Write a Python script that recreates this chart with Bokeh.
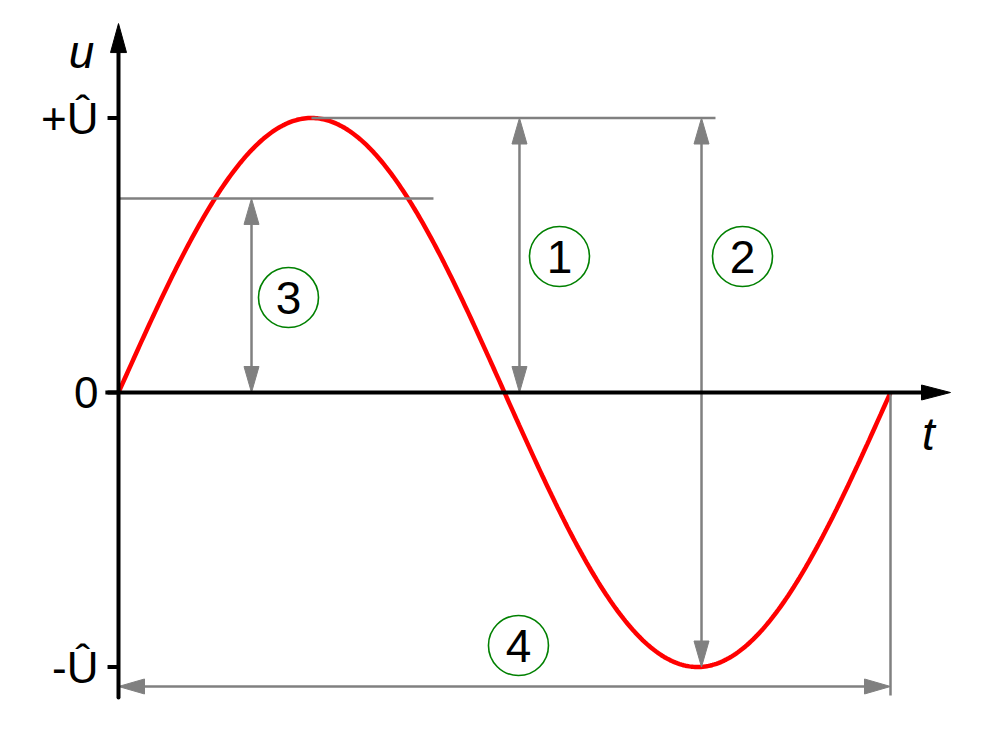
import numpy as np

from bokeh.plotting import figure
from bokeh.core.properties import value
from bokeh.embed import file_html
from bokeh.resources import INLINE

# values (t in periods, u in units of the peak value)
period = 1.0
amplitude = 1.0
rms_level = 0.707
tick_values = [amplitude, 0.0, -amplitude]
tick_labels = ["+\u00db", "0", "-\u00db"]
marker_labels = ["1", "2", "3", "4"]

# sine curve of one period
t = np.linspace(0, period, 400)
u = amplitude * np.sin(2 * np.pi * t / period)

W, H = 984, 713
X0, X1 = -118 / 772, (W - 118) / 772
Y0, Y1 = (392 - H) / 274.5, 392 / 274.5
KX = W / (X1 - X0)   # pixels per unit of t
KY = H / (Y1 - Y0)   # pixels per unit of u

GREY = "#808080"
FONT = value("Liberation Sans")

p = figure(width=W, height=H, x_range=(X0, X1), y_range=(Y0, Y1),
           output_backend="svg", toolbar_location=None,
           x_axis_location=None, y_axis_location=None, min_border=0)
p.grid.visible = False
p.outline_line_color = None


def arrow_head(x, y, direction, length, width):
    # triangle with its tip at (x, y), pointing "up", "down", "left", "right"
    lx, ly = length / KX, length / KY
    wx, wy = width / 2 / KX, width / 2 / KY
    if direction == "up":
        return [x, x - wx, x + wx], [y, y - ly, y - ly]
    if direction == "down":
        return [x, x - wx, x + wx], [y, y + ly, y + ly]
    if direction == "right":
        return [x, x - lx, x - lx], [y, y - wy, y + wy]
    return [x, x + lx, x + lx], [y, y - wy, y + wy]


def dim_arrow(x0, y0, x1, y1, length=26, width=15):
    # double-headed grey dimension arrow
    if x0 == x1:
        lo, hi = min(y0, y1), max(y0, y1)
        p.line([x0, x0], [lo + length / KY, hi - length / KY],
               line_color=GREY, line_width=2.5)
        heads = [arrow_head(x0, hi, "up", length, width),
                 arrow_head(x0, lo, "down", length, width)]
    else:
        lo, hi = min(x0, x1), max(x0, x1)
        p.line([lo + length / KX, hi - length / KX], [y0, y0],
               line_color=GREY, line_width=2.5)
        heads = [arrow_head(hi, y0, "right", length, width),
                 arrow_head(lo, y0, "left", length, width)]
    p.patches([h[0] for h in heads], [h[1] for h in heads],
              fill_color=GREY, line_color=GREY, line_width=1)


# the sine wave
p.line(t, u, line_color="red", line_width=4.5)

# grey reference lines
p.line([period / 4, 0.7733], [amplitude, amplitude], line_color=GREY, line_width=2.5)
p.line([0, 0.408], [rms_level, rms_level], line_color=GREY, line_width=2.5)
p.line([period, period], [0, -1.104], line_color=GREY, line_width=2.5)

# dimension arrows
dim_arrow(0.5194, 0, 0.5194, amplitude)
dim_arrow(0.7552, amplitude, 0.7552, -amplitude)
dim_arrow(0.1723, 0, 0.1723, rms_level)
dim_arrow(0, -1.071, period, -1.071)

# axes
p.line([-0.017, 1.0777 - 26 / KX], [0, 0], line_color="black", line_width=4)
p.line([0, 0], [-1.111, 1.344 - 26 / KY], line_color="black", line_width=4,
       line_cap="round")
hx, hy = arrow_head(1.0777, 0, "right", 29, 15)
vx, vy = arrow_head(0, 1.344, "up", 29, 16)
p.patches([hx, vx], [hy, vy], fill_color="black", line_color="black")
for tv in tick_values:
    p.line([-0.0142, 0], [tv, tv], line_color="black", line_width=4)

# axis texts
p.text(x=[-0.026] * 3, y=tick_values, text=tick_labels, text_font=FONT,
       text_font_size="44px", text_align="right", text_baseline="middle",
       text_color="black")
p.text(x=[-0.0479, 1.0492], y=[1.2387, -0.153], text=["u", "t"], text_font=FONT,
       text_font_size="46px", text_font_style="italic", text_align="center",
       text_baseline="middle", text_color="black")

# numbered circles
cx = [0.5712, 0.8083, 0.2202, 0.5181]
cy = [0.4954, 0.4954, 0.346, -0.9217]
p.scatter(cx, cy, marker="circle", size=60, fill_color="white",
          line_color="green", line_width=1.6)
p.text(x=cx, y=cy, text=marker_labels, text_font=FONT, text_font_size="46px",
       text_align="center", text_baseline="middle", text_color="black")

open("out.html", "w").write(file_html(p, INLINE))
